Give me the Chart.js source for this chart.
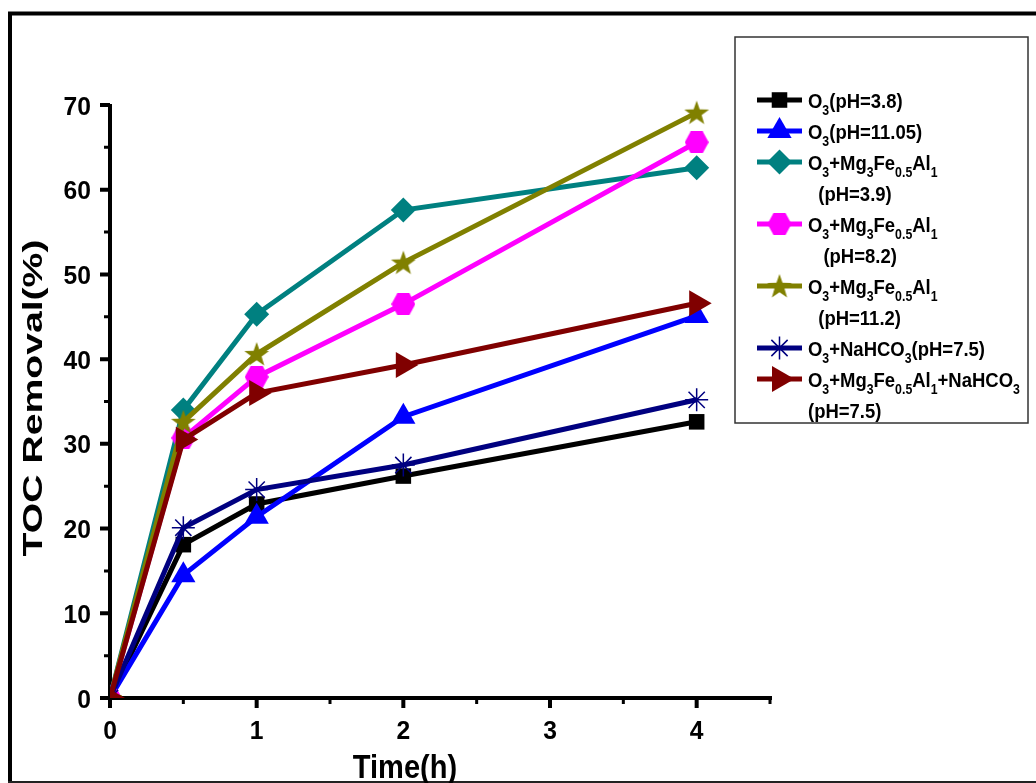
<!DOCTYPE html>
<html>
<head>
<meta charset="utf-8">
<title>TOC Removal</title>
<script src="https://cdn.jsdelivr.net/npm/chart.js@4.4.1/dist/chart.umd.min.js"></script>
<style>
  html, body { margin: 0; padding: 0; background: #fff; }
  #wrap { width: 1036px; height: 783px; position: relative; }
</style>
</head>
<body>
<div id="wrap"><canvas id="tocChart"></canvas></div>
<script>
// data
const timeHours = [0, 0.5, 1, 2, 4];
const o3Ph38 = [0, 18.1, 22.9, 26.2, 32.6];
const o3Ph1105 = [0, 14.5, 21.4, 33.2, 45.1];
const ldhPh39 = [0, 34.0, 45.3, 57.6, 62.6];
const ldhPh82 = [0, 30.7, 37.9, 46.5, 65.6];
const ldhPh112 = [0, 32.6, 40.6, 51.4, 69.1];
const o3Bicarb = [0, 20.1, 24.6, 27.5, 35.2];
const ldhBicarb = [0, 30.5, 36.0, 39.3, 46.6];

const seriesLabels = [
  'O_{3}(pH=3.8)',
  'O_{3}(pH=11.05)',
  'O_{3}+Mg_{3}Fe_{0.5}Al_{1}\n  (pH=3.9)',
  'O_{3}+Mg_{3}Fe_{0.5}Al_{1}\n   (pH=8.2)',
  'O_{3}+Mg_{3}Fe_{0.5}Al_{1}\n  (pH=11.2)',
  'O_{3}+NaHCO_{3}(pH=7.5)',
  'O_{3}+Mg_{3}Fe_{0.5}Al_{1}+NaHCO_{3}\n(pH=7.5)'
];
const seriesColors = ['#000000', '#0000ff', '#008080', '#ff00ff', '#808000', '#000080', '#800000'];

const xTicks = [0, 1, 2, 3, 4];
const xMinorTicks = [0.5, 1.5, 2.5, 3.5, 4.5];
const yTicks = [0, 10, 20, 30, 40, 50, 60, 70];
const yMinorTicks = [5, 15, 25, 35, 45, 55, 65];

const FONT = '"Liberation Sans", Arial, sans-serif';

// custom marker shapes
function makeHexagon(color, w, h) {
  const c = document.createElement('canvas');
  c.width = w; c.height = h;
  const g = c.getContext('2d');
  g.fillStyle = color;
  g.beginPath();
  g.moveTo(0, h / 2);
  g.lineTo(w * 0.25, 0);
  g.lineTo(w * 0.75, 0);
  g.lineTo(w, h / 2);
  g.lineTo(w * 0.75, h);
  g.lineTo(w * 0.25, h);
  g.closePath();
  g.fill();
  return c;
}

function makeStar(color, size) {
  const c = document.createElement('canvas');
  c.width = size; c.height = size;
  const g = c.getContext('2d');
  const cx = size / 2, cy = size / 2 + 1, ro = size / 2, ri = size * 0.2;
  g.fillStyle = color;
  g.beginPath();
  for (let i = 0; i < 10; i++) {
    const r = i % 2 ? ri : ro;
    const a = -Math.PI / 2 + i * Math.PI / 5;
    const px = cx + r * Math.cos(a), py = cy + r * Math.sin(a);
    if (i === 0) g.moveTo(px, py); else g.lineTo(px, py);
  }
  g.closePath();
  g.fill();
  return c;
}

const seriesValues = [o3Ph38, o3Ph1105, ldhPh39, ldhPh82, ldhPh112, o3Bicarb, ldhBicarb];
const markerStyles = [
  { pointStyle: 'rect', radius: 11, rotation: 0, border: 0 },
  { pointStyle: 'triangle', radius: 14, rotation: 0, border: 0 },
  { pointStyle: 'rectRot', radius: 12.5, rotation: 0, border: 0 },
  { pointStyle: makeHexagon('#ff00ff', 24, 22), radius: 11, rotation: 0, border: 0 },
  { pointStyle: makeStar('#808000', 26), radius: 12, rotation: 0, border: 0 },
  { pointStyle: 'star', radius: 11.5, rotation: 0, border: 1.5 },
  { pointStyle: 'triangle', radius: 15, rotation: 90, border: 0 }
];

const datasets = seriesValues.map((vals, i) => ({
  label: seriesLabels[i],
  data: timeHours.map((t, j) => ({ x: t, y: vals[j] })),
  borderColor: seriesColors[i],
  backgroundColor: seriesColors[i],
  borderWidth: 5,
  tension: 0,
  // markers at the origin are cut by the axes, the rest is free
  clip: { left: 0, bottom: 0, top: false, right: false },
  order: seriesValues.length - i,
  pointStyle: markerStyles[i].pointStyle,
  pointRadius: markerStyles[i].radius,
  pointRotation: markerStyles[i].rotation,
  pointBorderWidth: markerStyles[i].border,
  pointBackgroundColor: seriesColors[i],
  pointBorderColor: seriesColors[i],
  pointHoverRadius: markerStyles[i].radius
}));

// text with _{sub} parts, squeezed horizontally by sx
function drawRich(ctx, str, x, y, size, sx) {
  const parts = str.split(/(_\{[^}]*\})/).filter(Boolean);
  ctx.save();
  ctx.translate(x, y);
  ctx.scale(sx, 1);
  ctx.textAlign = 'left';
  ctx.textBaseline = 'alphabetic';
  ctx.fillStyle = '#000';
  let cx = 0;
  parts.forEach(p => {
    if (p.startsWith('_{')) {
      const t = p.slice(2, -1);
      ctx.font = 'bold ' + Math.round(size * 0.66) + 'px ' + FONT;
      ctx.fillText(t, cx, size * 0.33);
      cx += ctx.measureText(t).width;
    } else {
      ctx.font = 'bold ' + size + 'px ' + FONT;
      ctx.fillText(p, cx, 0);
      cx += ctx.measureText(p).width;
    }
  });
  ctx.restore();
}

function drawSqueezed(ctx, text, x, y, size, sx, align) {
  ctx.save();
  ctx.translate(x, y);
  ctx.scale(sx, 1);
  ctx.fillStyle = '#000';
  ctx.textAlign = align;
  ctx.textBaseline = 'alphabetic';
  ctx.font = 'bold ' + size + 'px ' + FONT;
  ctx.fillText(text, 0, 0);
  ctx.restore();
}

const framePlugin = {
  id: 'frame',
  beforeDraw(chart) {
    const ctx = chart.ctx;
    ctx.save();
    ctx.fillStyle = '#fff';
    ctx.fillRect(0, 0, chart.width, chart.height);
    ctx.strokeStyle = '#000';
    ctx.lineWidth = 4;
    ctx.beginPath();
    ctx.moveTo(8, 13.5);
    ctx.lineTo(chart.width, 13.5);
    ctx.moveTo(10, 12);
    ctx.lineTo(10, chart.height);
    ctx.stroke();
    ctx.lineWidth = 2;
    ctx.strokeStyle = '#222';
    ctx.beginPath();
    ctx.moveTo(8, chart.height - 1);
    ctx.lineTo(chart.width, chart.height - 1);
    ctx.stroke();
    ctx.restore();
  }
};

const axesPlugin = {
  id: 'axesDraw',
  beforeDatasetsDraw(chart) {
    const { ctx, scales: { x, y } } = chart;
    const ax = x.getPixelForValue(0);
    const ay = y.getPixelForValue(0);
    ctx.save();
    ctx.strokeStyle = '#000';
    ctx.lineCap = 'butt';
    // axis lines
    ctx.lineWidth = 4;
    ctx.beginPath();
    ctx.moveTo(ax, y.getPixelForValue(70) - 1);
    ctx.lineTo(ax, ay + 2);
    ctx.moveTo(ax - 2, ay);
    ctx.lineTo(x.getPixelForValue(4.5) + 2, ay);
    ctx.stroke();
    // ticks
    ctx.beginPath();
    yTicks.forEach(v => {
      const py = y.getPixelForValue(v);
      ctx.moveTo(ax, py);
      ctx.lineTo(ax - 10, py);
    });
    xTicks.forEach(v => {
      const px = x.getPixelForValue(v);
      ctx.moveTo(px, ay);
      ctx.lineTo(px, ay + 10);
    });
    ctx.stroke();
    ctx.lineWidth = 3;
    ctx.beginPath();
    yMinorTicks.forEach(v => {
      const py = y.getPixelForValue(v);
      ctx.moveTo(ax, py);
      ctx.lineTo(ax - 6, py);
    });
    xMinorTicks.forEach(v => {
      const px = x.getPixelForValue(v);
      ctx.moveTo(px, ay);
      ctx.lineTo(px, ay + 6);
    });
    ctx.stroke();
    ctx.restore();
    // tick labels
    yTicks.forEach(v => {
      drawSqueezed(ctx, String(v), ax - 19, y.getPixelForValue(v) + 9.5, 26.5, 0.93, 'right');
    });
    xTicks.forEach(v => {
      drawSqueezed(ctx, String(v), x.getPixelForValue(v), ay + 41, 26.5, 0.93, 'center');
    });
  },
  afterDraw(chart) {
    const ctx = chart.ctx;
    // axis titles
    drawSqueezed(ctx, 'Time(h)', 405, 778, 33, 0.88, 'center');
    ctx.save();
    ctx.translate(42, 398);
    ctx.rotate(-Math.PI / 2);
    drawSqueezed(ctx, 'TOC Removal(%)', 0, 0, 27, 1.45, 'center');
    ctx.restore();
  }
};

const legendPlugin = {
  id: 'boxLegend',
  afterDraw(chart) {
    const ctx = chart.ctx;
    ctx.save();
    ctx.strokeStyle = '#333';
    ctx.lineWidth = 1.5;
    ctx.strokeRect(735, 37, 293, 386);
    let baseY = 108;
    const step = 31;
    chart.data.datasets.forEach((ds, i) => {
      const lines = ds.label.split('\n');
      const my = baseY - 8;
      ctx.strokeStyle = ds.borderColor;
      ctx.fillStyle = ds.borderColor;
      ctx.lineWidth = 5;
      ctx.beginPath();
      ctx.moveTo(757, my);
      ctx.lineTo(802, my);
      ctx.stroke();
      ctx.lineWidth = markerStyles[i].border || 0;
      Chart.helpers.drawPoint(ctx, {
        pointStyle: ds.pointStyle,
        rotation: ds.pointRotation,
        radius: ds.pointRadius,
        borderWidth: markerStyles[i].border
      }, 779.5, my);
      lines.forEach((ln, k) => {
        drawRich(ctx, ln, 808, baseY + k * step, 21, 0.88);
      });
      baseY += step * lines.length;
    });
    ctx.restore();
  }
};

const ctx = document.getElementById('tocChart').getContext('2d');
const tocChart = new Chart(ctx, {
  type: 'line',
  data: { datasets: datasets },
  options: {
    responsive: true,
    maintainAspectRatio: false,
    animation: false,
    devicePixelRatio: 1,
    layout: { padding: { top: 105, right: 266, left: 0, bottom: 0 } },
    plugins: {
      legend: { display: false },
      tooltip: { enabled: false }
    },
    scales: {
      x: {
        type: 'linear',
        min: 0,
        max: 4.5,
        afterFit: s => { s.height = 85; },
        afterBuildTicks: s => { s.ticks = xTicks.map(v => ({ value: v })); },
        grid: { display: false, drawTicks: false },
        border: { display: false },
        ticks: { display: false }
      },
      y: {
        type: 'linear',
        min: 0,
        max: 70,
        afterFit: s => { s.width = 110; },
        afterBuildTicks: s => { s.ticks = yTicks.map(v => ({ value: v })); },
        grid: { display: false, drawTicks: false },
        border: { display: false },
        ticks: { display: false }
      }
    }
  },
  plugins: [framePlugin, axesPlugin, legendPlugin]
});
</script>
</body>
</html>
